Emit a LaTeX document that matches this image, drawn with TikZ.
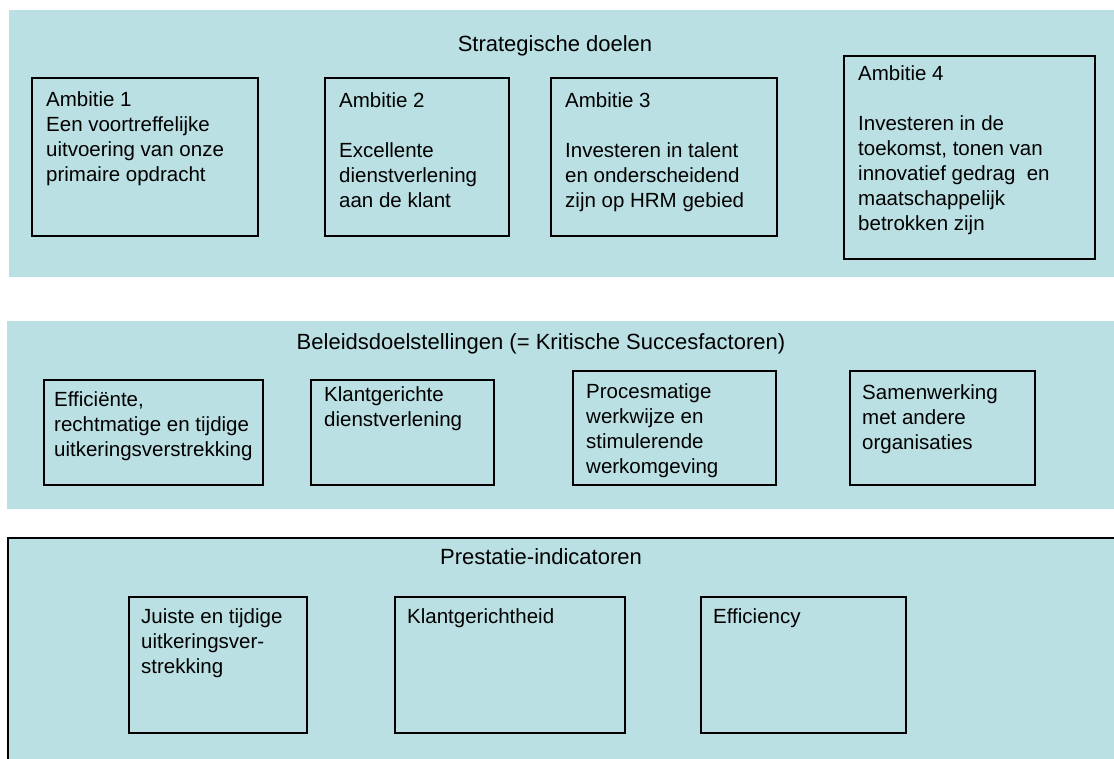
\documentclass[tikz,border=0pt]{standalone}
\usepackage{fontspec}
\setmainfont{Liberation Sans}
\usetikzlibrary{positioning}
\definecolor{bandblue}{HTML}{BBE0E3}
\tikzstyle{goalbox}=[draw=black,line width=2pt,anchor=north west,inner sep=0pt]
\tikzstyle{boxtext}=[anchor=north west,align=left,inner sep=0pt,font=\fontsize{20.5}{25}\selectfont]
\tikzstyle{bandtitle}=[anchor=north,inner sep=0pt,font=\fontsize{22}{26}\selectfont]

\begin{document}
\begin{tikzpicture}[x=1pt,y=-1pt]
      \useasboundingbox (0,0) rectangle (1114,759);
      % bands
      \fill[bandblue] (9,10) rectangle (1114,277);
      \fill[bandblue] (7,321) rectangle (1114,509);
      \fill[bandblue] (8,538) rectangle (1120,765);
      \draw[line width=2pt] (8,765) -- (8,538) -- (1120,538);
      % strategische doelen
      \node[bandtitle] (strat) at (555,35) {Strategische doelen};
      \node[goalbox,minimum width=226pt,minimum height=158pt] (amb1) at (31,77) {};
      \node[goalbox,minimum width=184pt,minimum height=158pt] (amb2) at (324,77) {};
      \node[goalbox,minimum width=226pt,minimum height=158pt] (amb3) at (550,77) {};
      \node[goalbox,minimum width=251pt,minimum height=203pt] (amb4) at (843,55) {};
      \node[boxtext] (amb1t) at ([xshift=15pt,yshift=-14pt]amb1.north west)
        {Ambitie 1\\Een voortreffelijke\\uitvoering van onze\\primaire opdracht};
      \node[boxtext] (amb2t) at ([xshift=15pt,yshift=-15pt]amb2.north west)
        {Ambitie 2\\[25pt]Excellente\\dienstverlening\\aan de klant};
      \node[boxtext] (amb3t) at ([xshift=15pt,yshift=-15pt]amb3.north west)
        {Ambitie 3\\[25pt]Investeren in talent\\en onderscheidend\\zijn op HRM gebied};
      \node[boxtext] (amb4t) at ([xshift=15pt,yshift=-10pt]amb4.north west)
        {Ambitie 4\\[25pt]Investeren in de\\toekomst, tonen van\\innovatief gedrag\ \ en\\maatschappelijk\\betrokken zijn};
      % beleidsdoelstellingen
      \node[bandtitle] (beleid) at (541,333) {Beleidsdoelstellingen (= Kritische Succesfactoren)};
      \node[goalbox,minimum width=219pt,minimum height=105pt] (ksf1) at (43,379) {};
      \node[goalbox,minimum width=183pt,minimum height=105pt] (ksf2) at (310,379) {};
      \node[goalbox,minimum width=203pt,minimum height=114pt] (ksf3) at (572,370) {};
      \node[goalbox,minimum width=185pt,minimum height=114pt] (ksf4) at (849,370) {};
      \node[boxtext] (ksf1t) at ([xshift=11pt,yshift=-12pt]ksf1.north west)
        {Efficiënte,\\rechtmatige en tijdige\\uitkeringsverstrekking};
      \node[boxtext] (ksf2t) at ([xshift=14pt,yshift=-7pt]ksf2.north west)
        {Klantgerichte\\dienstverlening};
      \node[boxtext] (ksf3t) at ([xshift=14pt,yshift=-13pt]ksf3.north west)
        {Procesmatige\\werkwijze en\\stimulerende\\werkomgeving};
      \node[boxtext] (ksf4t) at ([xshift=13pt,yshift=-14pt]ksf4.north west)
        {Samenwerking\\met andere\\organisaties};
      % prestatie-indicatoren
      \node[bandtitle] (prest) at (541,548) {Prestatie-indicatoren};
      \node[goalbox,minimum width=178pt,minimum height=136pt] (pi1) at (128,596) {};
      \node[goalbox,minimum width=230pt,minimum height=136pt] (pi2) at (394,596) {};
      \node[goalbox,minimum width=205pt,minimum height=136pt] (pi3) at (700,596) {};
      \node[boxtext] (pi1t) at ([xshift=13pt,yshift=-12pt]pi1.north west)
        {Juiste en tijdige\\uitkeringsver-\\strekking};
      \node[boxtext] (pi2t) at ([xshift=13pt,yshift=-12pt]pi2.north west) {Klantgerichtheid};
      \node[boxtext] (pi3t) at ([xshift=13pt,yshift=-12pt]pi3.north west) {Efficiency};
    \end{tikzpicture}
\end{document}
